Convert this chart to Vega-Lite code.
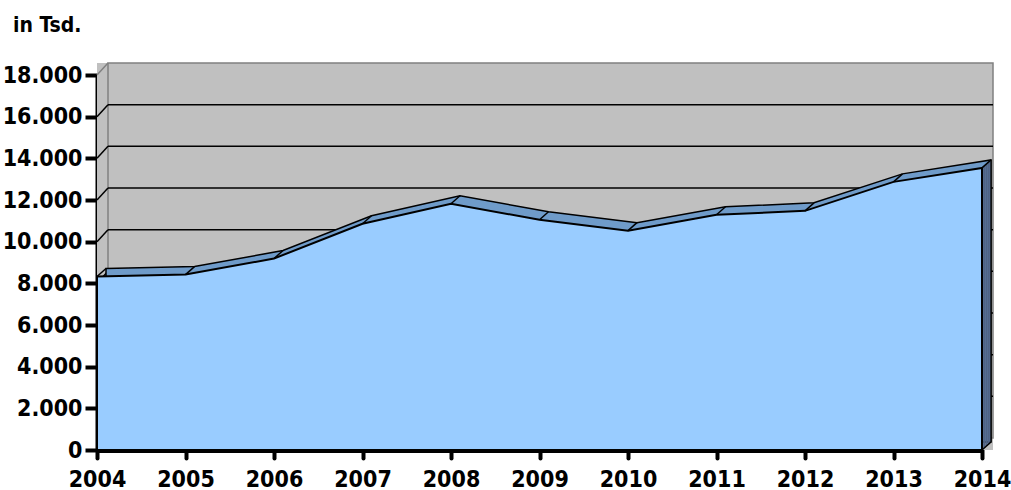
{
  "$schema": "https://vega.github.io/schema/vega-lite/v6.json",
  "width": 885,
  "height": 375,
  "autosize": {"type": "none"},
  "padding": {"left": 97, "top": 75, "right": 29, "bottom": 40},
  "background": "white",
  "title": {
    "text": "in Tsd.",
    "anchor": "start",
    "frame": "group",
    "dx": -84,
    "offset": 26,
    "font": "DejaVu Sans Condensed",
    "fontSize": 21,
    "fontWeight": "bold",
    "color": "black"
  },
  "datasets": {
    "series": [
      {"year": 2004, "value": 8330},
      {"year": 2005, "value": 8420},
      {"year": 2006, "value": 9190},
      {"year": 2007, "value": 10860},
      {"year": 2008, "value": 11820},
      {"year": 2009, "value": 11050},
      {"year": 2010, "value": 10530},
      {"year": 2011, "value": 11290},
      {"year": 2012, "value": 11480},
      {"year": 2013, "value": 12870},
      {"year": 2014, "value": 13540}
    ],
    "grid": [
      {"v": 2000}, {"v": 4000}, {"v": 6000}, {"v": 8000},
      {"v": 10000}, {"v": 12000}, {"v": 14000}, {"v": 16000}
    ]
  },
  "config": {
    "view": {"stroke": null},
    "axis": {
      "labelFont": "DejaVu Sans Condensed",
      "labelFontWeight": "bold",
      "labelFontSize": 23,
      "labelColor": "black",
      "domainColor": "black",
      "tickColor": "black",
      "grid": false,
      "title": null,
      "zindex": 1
    }
  },
  "layer": [
    {
      "data": {"values": [{"x0": 2004, "x1": 2014, "y0": 0, "y1": 18000}]},
      "mark": {"type": "rect", "fill": "#c0c0c0", "x2Offset": 11, "yOffset": -12},
      "encoding": {
        "x": {"field": "x0", "type": "quantitative", "scale": {"domain": [2004, 2014], "nice": false, "zero": false},
          "axis": {"values": [2004, 2005, 2006, 2007, 2008, 2009, 2010, 2011, 2012, 2013, 2014], "format": "d", "labelFlush": false, "labelOverlap": false, "domainWidth": 5, "tickWidth": 4, "tickSize": 8, "tickCap": "round", "labelPadding": 10}},
        "x2": {"field": "x1"},
        "y": {"field": "y1", "type": "quantitative", "scale": {"domain": [0, 18000], "nice": false},
          "axis": {"values": [0, 2000, 4000, 6000, 8000, 10000, 12000, 14000, 16000, 18000], "labelExpr": "replace(format(datum.value, ','), ',', '.')", "labelFlush": false, "labelOverlap": false, "domainWidth": 4, "tickWidth": 4, "tickSize": 12, "labelPadding": 3}},
        "y2": {"field": "y0"}
      }
    },
    {
      "data": {"values": [{"x0": 2004, "x1": 2014, "y0": 0, "y1": 18000}]},
      "mark": {"type": "rect", "fill": null, "stroke": "#808080", "strokeWidth": 1.5, "xOffset": 11, "x2Offset": 11, "yOffset": -12, "y2Offset": -12},
      "encoding": {
        "x": {"field": "x0", "type": "quantitative"},
        "x2": {"field": "x1"},
        "y": {"field": "y1", "type": "quantitative"},
        "y2": {"field": "y0"}
      }
    },
    {
      "data": {"values": [{"x0": 2004, "y1": 18000}]},
      "mark": {"type": "rule", "color": "#808080", "strokeWidth": 1.5, "x2Offset": 11, "y2Offset": -12},
      "encoding": {
        "x": {"field": "x0", "type": "quantitative"},
        "x2": {"field": "x0"},
        "y": {"field": "y1", "type": "quantitative"},
        "y2": {"field": "y1"}
      }
    },
    {
      "data": {"name": "grid"},
      "mark": {"type": "rule", "color": "black", "strokeWidth": 1.5, "xOffset": 11, "x2Offset": 11, "yOffset": -12},
      "encoding": {
        "x": {"datum": 2004, "type": "quantitative"},
        "x2": {"datum": 2014},
        "y": {"field": "v", "type": "quantitative"}
      }
    },
    {
      "data": {"name": "grid"},
      "mark": {"type": "rule", "color": "black", "strokeWidth": 1.5, "x2Offset": 11, "y2Offset": -12},
      "encoding": {
        "x": {"datum": 2004, "type": "quantitative"},
        "x2": {"datum": 2004},
        "y": {"field": "v", "type": "quantitative"},
        "y2": {"field": "v"}
      }
    },
    {
      "data": {"name": "series"},
      "mark": {"type": "area", "fill": "#6f9bc9", "stroke": "black", "strokeWidth": 1.5, "xOffset": 9, "yOffset": -8, "y2Offset": -8},
      "encoding": {
        "x": {"field": "year", "type": "quantitative"},
        "y": {"field": "value", "type": "quantitative"},
        "y2": {"datum": 0}
      }
    },
    {
      "data": {"name": "series"},
      "transform": [{"filter": "datum.year == 2014"}],
      "layer": [
        {"mark": {"type": "rule", "color": "#4f6385", "strokeWidth": 1.9, "xOffset": 0.9, "yOffset": -0.8, "y2Offset": -0.8}, "encoding": {"x": {"field": "year", "type": "quantitative"}, "y": {"field": "value", "type": "quantitative"}, "y2": {"datum": 0}}},
        {"mark": {"type": "rule", "color": "#4f6385", "strokeWidth": 1.9, "xOffset": 2.7, "yOffset": -2.4, "y2Offset": -2.4}, "encoding": {"x": {"field": "year", "type": "quantitative"}, "y": {"field": "value", "type": "quantitative"}, "y2": {"datum": 0}}},
        {"mark": {"type": "rule", "color": "#4f6385", "strokeWidth": 1.9, "xOffset": 4.5, "yOffset": -4.0, "y2Offset": -4.0}, "encoding": {"x": {"field": "year", "type": "quantitative"}, "y": {"field": "value", "type": "quantitative"}, "y2": {"datum": 0}}},
        {"mark": {"type": "rule", "color": "#4f6385", "strokeWidth": 1.9, "xOffset": 6.3, "yOffset": -5.6, "y2Offset": -5.6}, "encoding": {"x": {"field": "year", "type": "quantitative"}, "y": {"field": "value", "type": "quantitative"}, "y2": {"datum": 0}}},
        {"mark": {"type": "rule", "color": "#4f6385", "strokeWidth": 1.9, "xOffset": 8.1, "yOffset": -7.2, "y2Offset": -7.2}, "encoding": {"x": {"field": "year", "type": "quantitative"}, "y": {"field": "value", "type": "quantitative"}, "y2": {"datum": 0}}},
        {"mark": {"type": "rule", "color": "black", "strokeWidth": 1.2, "xOffset": 9, "yOffset": -8, "y2Offset": -8}, "encoding": {"x": {"field": "year", "type": "quantitative"}, "y": {"field": "value", "type": "quantitative"}, "y2": {"datum": 0}}},
        {"mark": {"type": "rule", "color": "black", "strokeWidth": 1.5, "x2Offset": 9, "y2Offset": -8}, "encoding": {"x": {"field": "year", "type": "quantitative"}, "x2": {"field": "year"}, "y": {"datum": 0, "type": "quantitative"}, "y2": {"datum": 0}}}
      ]
    },
    {
      "data": {"name": "series"},
      "mark": {"type": "area", "fill": "#99ccff", "stroke": "black", "strokeWidth": 2},
      "encoding": {
        "x": {"field": "year", "type": "quantitative"},
        "y": {"field": "value", "type": "quantitative"},
        "y2": {"datum": 0}
      }
    },
    {
      "data": {"name": "series"},
      "mark": {"type": "rule", "color": "black", "strokeWidth": 1.5, "x2Offset": 9, "y2Offset": -8},
      "encoding": {
        "x": {"field": "year", "type": "quantitative"},
        "x2": {"field": "year"},
        "y": {"field": "value", "type": "quantitative"},
        "y2": {"field": "value"}
      }
    }
  ]
}
